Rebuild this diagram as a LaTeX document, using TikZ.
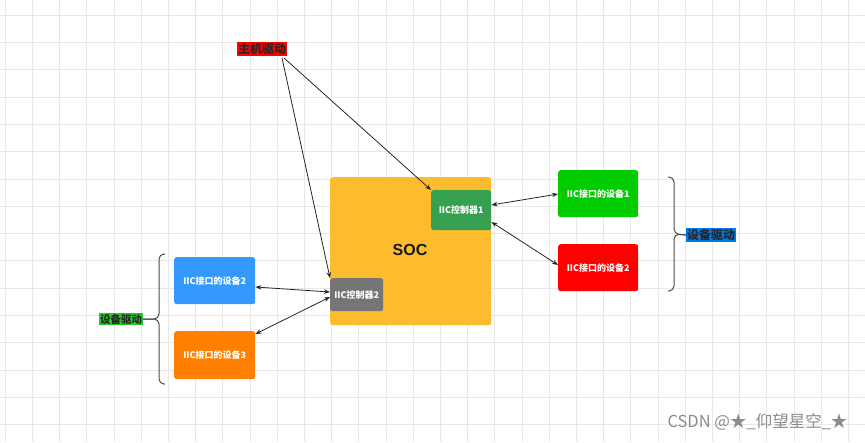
\documentclass[tikz,border=0pt]{standalone}
\usepackage{fontspec}
\setmainfont{Noto Sans CJK SC}
\newfontfamily\cjk{Noto Sans CJK SC}
\newfontfamily\arl{Liberation Sans}
\usetikzlibrary{arrows.meta}
\definecolor{socY}{RGB}{252,188,45}
\definecolor{ctlG}{RGB}{52,160,80}
\definecolor{devG}{RGB}{0,204,0}
\definecolor{devR}{RGB}{255,0,0}
\definecolor{devB}{RGB}{51,153,255}
\definecolor{devO}{RGB}{255,128,0}
\definecolor{ctlGr}{RGB}{117,117,117}
\definecolor{gridc}{RGB}{232,232,232}
\definecolor{lblB}{RGB}{0,122,230}
\definecolor{lblG}{RGB}{40,200,40}
\tikzset{
  box/.style={rounded corners=2.5pt, text=white, font=\cjk\bfseries\fontsize{9}{10}\selectfont, inner sep=0pt, anchor=north west},
  link/.style={draw=black!85, line width=0.8pt, -{Stealth[length=6pt,width=4.5pt]}},
  dlink/.style={draw=black!85, line width=0.8pt, {Stealth[length=6pt,width=4.5pt]}-{Stealth[length=6pt,width=4.5pt]}},
  bracec/.style={draw=black!70, line width=1pt, rounded corners=5pt},
  tag/.style={inner sep=1pt, font=\cjk\bfseries\fontsize{12}{13}\selectfont, text=black!85}
}
\begin{document}
\begin{tikzpicture}[x=1pt,y=-1pt]
\useasboundingbox (0,0) rectangle (865,442);
\fill[white] (0,0) rectangle (865,442);
\foreach \i in {0,...,31} {\draw[gridc, line width=0.6pt] (5+27.2*\i,0) -- (5+27.2*\i,442);}
\foreach \j in {0,...,15} {\draw[gridc, line width=0.6pt] (0,15+27.3*\j) -- (865,15+27.3*\j);}

% SOC
\node[box, fill=socY, minimum width=161pt, minimum height=148pt] (soc) at (330,177) {};
\node[font=\arl\bfseries\fontsize{16}{18}\selectfont, text=black!90] (soct) at (410,250) {SOC};
\node[box, fill=ctlG, minimum width=60pt, minimum height=40pt] (c1) at (431,190) {IIC控制器1};
\node[box, fill=ctlGr, minimum width=53pt, minimum height=33pt] (c2) at (330,278) {IIC控制器2};

% devices
\node[box, fill=devG, minimum width=80pt, minimum height=47pt] (d1) at (558,170) {IIC接口的设备1};
\node[box, fill=devR, minimum width=80pt, minimum height=47pt] (d2r) at (558,244) {IIC接口的设备2};
\node[box, fill=devB, minimum width=81pt, minimum height=47pt] (d2b) at (174,257) {IIC接口的设备2};
\node[box, fill=devO, minimum width=81pt, minimum height=48pt] (d3) at (174,331) {IIC接口的设备3};

% labels
\node[tag, fill=devR] (host) at (262,49) {主机驱动};
\node[tag, fill=lblB, font=\cjk\bfseries\fontsize{12}{13}\selectfont] (drvR) at (711,235) {设备驱动};
\node[tag, fill=lblG, font=\cjk\bfseries\fontsize{10.5}{12}\selectfont] (drvL) at (121,319) {设备驱动};

% coordinates for host lines
\coordinate (hs1) at (284,58);
\coordinate (hs2) at (282,58);
\draw[link] (hs1) -- (c1.north west);
\draw[link] (hs2) -- (c2.north west);

% double arrows
\draw[dlink] ([yshift=-15pt]c1.north east) -- ([yshift=-24pt]d1.north west);
\draw[dlink] ([yshift=-32pt]c1.north east) -- ([yshift=-21pt]d2r.north west);
\draw[dlink] ([yshift=-14pt]c2.north west) -- ([yshift=-30pt]d2b.north east);
\draw[dlink] ([yshift=-19pt]c2.north west) -- ([yshift=-3pt]d3.north east);

% braces
\coordinate (lbT) at (165,254);
\coordinate (lbB) at (165,384);
\draw[bracec] (lbT) -- (159,254) -- (159,319) -- (drvL.east);
\draw[bracec] (lbB) -- (159,384) -- (159,319) -- (drvL.east);
\coordinate (rbT) at (668,177);
\coordinate (rbB) at (668,291);
\draw[bracec] (rbT) -- (674,177) -- (674,234) -- (drvR.west);
\draw[bracec] (rbB) -- (674,291) -- (674,234) -- (drvR.west);

% watermark
\node[font=\cjk\fontsize{16.5}{18}\selectfont, text=black!45, anchor=east] (wm) at (851,422) {CSDN @★\_仰望星空\_★};
\end{tikzpicture}
\end{document}
